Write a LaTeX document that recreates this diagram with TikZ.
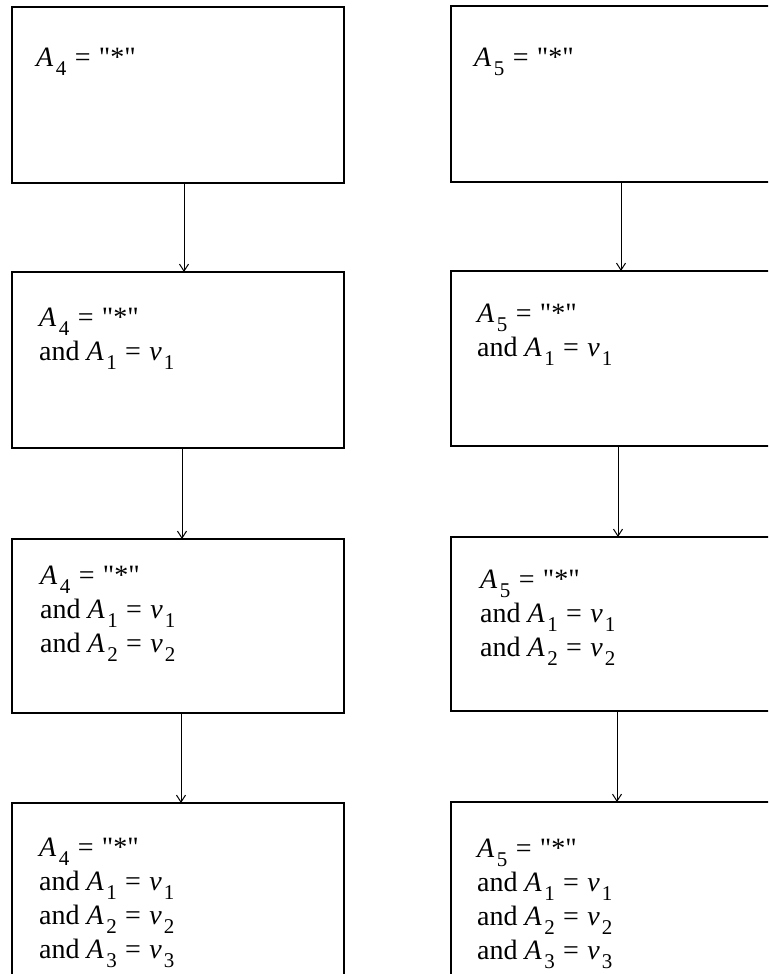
\documentclass[tikz,border=0pt]{standalone}
\usepackage{fontspec}
\setmainfont{Liberation Serif}[Ligatures=TeXOff]
\usetikzlibrary{arrows.meta}
\newcommand\sbs[1]{\raisebox{-0.3em}{\fontsize{21}{21}\selectfont #1}}
\newcommand\Av[1]{\textit{A}\kern2.5pt\sbs{#1}}
\newcommand\vv[1]{\textit{v}\kern2pt\sbs{#1}}
\newcommand\eq{\hspace{0.3em}=\hspace{0.3em}}
\begin{document}
\begin{tikzpicture}[x=1pt,y=-1pt,
  box/.style={draw, line width=1.2pt, inner sep=0pt, outer sep=0pt, anchor=north west, minimum width=#1},
  box/.default=332pt,
  txt/.style={anchor=north west, align=left, inner sep=0pt, font=\fontsize{28}{34}\selectfont},
  arr/.style={-{Straight Barb[length=7pt,width=9pt]}, line width=1pt}]
\useasboundingbox (0,0) rectangle (768,974);
\clip (0,0) rectangle (768,974);
% left column
\node[box, minimum height=176pt] (L1) at (12,7) {};
\node[box, minimum height=176pt] (L2) at (12,272) {};
\node[box, minimum height=174pt] (L3) at (12,539) {};
\node[box, minimum height=250pt] (L4) at (12,803) {};
% right column
\node[box=340pt, minimum height=176pt] (R1) at (451,6) {};
\node[box=340pt, minimum height=175pt] (R2) at (451,271) {};
\node[box=340pt, minimum height=174pt] (R3) at (451,537) {};
\node[box=340pt, minimum height=250pt] (R4) at (451,802) {};
% texts
\node[txt] (tL1) at (36,48) {\Av{4}\eq"*"};
\node[txt] (tL2) at (39,308) {\Av{4}\eq"*"\\and \Av{1}\eq\vv{1}};
\node[txt] (tL3) at (40,566) {\Av{4}\eq"*"\\and \Av{1}\eq\vv{1}\\and \Av{2}\eq\vv{2}};
\node[txt] (tL4) at (39,838) {\Av{4}\eq"*"\\and \Av{1}\eq\vv{1}\\and \Av{2}\eq\vv{2}\\and \Av{3}\eq\vv{3}};
\node[txt] (tR1) at (474,48) {\Av{5}\eq"*"};
\node[txt] (tR2) at (477,304) {\Av{5}\eq"*"\\and \Av{1}\eq\vv{1}};
\node[txt] (tR3) at (480,570) {\Av{5}\eq"*"\\and \Av{1}\eq\vv{1}\\and \Av{2}\eq\vv{2}};
\node[txt] (tR4) at (477,839) {\Av{5}\eq"*"\\and \Av{1}\eq\vv{1}\\and \Av{2}\eq\vv{2}\\and \Av{3}\eq\vv{3}};
% arrows
\draw[arr] ([xshift=6pt]L1.south) -- ([xshift=6pt]L2.north);
\draw[arr] ([xshift=4pt]L2.south) -- ([xshift=4pt]L3.north);
\draw[arr] ([xshift=3pt]L3.south) -- ([xshift=3pt]L4.north);
\draw[arr] ([xshift=0pt]R1.south) -- ([xshift=0pt]R2.north);
\draw[arr] ([xshift=-3pt]R2.south) -- ([xshift=-3pt]R3.north);
\draw[arr] ([xshift=-4pt]R3.south) -- ([xshift=-4pt]R4.north);
\end{tikzpicture}
\end{document}
